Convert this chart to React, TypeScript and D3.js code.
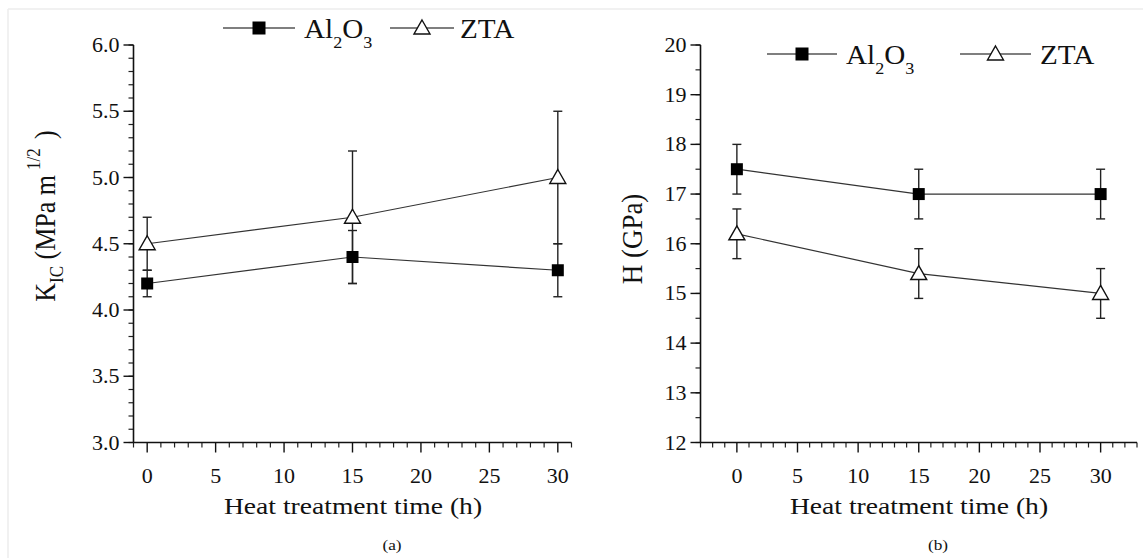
import React from "react";
import * as d3 from "d3";

// ---- data ----
const times = [0, 15, 30];
const kicAl2O3 = [4.2, 4.4, 4.3];
const kicAl2O3Err = [0.1, 0.2, 0.2];
const kicZTA = [4.5, 4.7, 5.0];
const kicZTAErr = [0.2, 0.5, 0.5];
const hAl2O3 = [17.5, 17.0, 17.0];
const hAl2O3Err = [0.5, 0.5, 0.5];
const hZTA = [16.2, 15.4, 15.0];
const hZTAErr = [0.5, 0.5, 0.5];
const xTicks = [0, 5, 10, 15, 20, 25, 30];
const kicTicks = [3.0, 3.5, 4.0, 4.5, 5.0, 5.5, 6.0];
const hTicks = [12, 13, 14, 15, 16, 17, 18, 19, 20];
const xLabel = "Heat treatment time (h)";

const FONT = "Liberation Serif, Tinos, Times New Roman, Times, DejaVu Serif, serif";
const SX = 1.12;

function T({ x, y, size, anchor = "start", sx = SX, children, fill = "#111" }: any) {
  return (
    <text
      transform={`translate(${x},${y}) scale(${sx},1)`}
      style={{ fontFamily: FONT, fontSize: size }}
      textAnchor={anchor}
      fill={fill}
    >
      {children}
    </text>
  );
}

function Square({ x, y, s = 12 }: any) {
  return <rect x={x - s / 2} y={y - s / 2} width={s} height={s} fill="#000" />;
}
function Tri({ x, y, w = 16, h = 14 }: any) {
  const p = [
    [x, y - h / 2 - 1],
    [x + w / 2, y + h / 2 - 1],
    [x - w / 2, y + h / 2 - 1],
  ];
  return <polygon points={p.map((q) => q.join(",")).join(" ")} fill="#fff" stroke="#111" strokeWidth={1.4} strokeLinejoin="miter" />;
}

function AlLabel({ x, y, size }: any) {
  return (
    <text transform={`translate(${x},${y}) scale(1.08,1)`} style={{ fontFamily: FONT, fontSize: size }} fill="#111">
      Al
      <tspan style={{ fontSize: size * 0.62 }} dy={10}>2</tspan>
      <tspan dy={-10}>O</tspan>
      <tspan style={{ fontSize: size * 0.62 }} dy={10}>3</tspan>
    </text>
  );
}

function Legend({ y, alLine, alText, ztaLine, ztaText }: any) {
  return (
    <g>
      <line x1={alLine[0]} x2={alLine[1]} y1={y} y2={y} stroke="#555" strokeWidth={1.4} />
      <Square x={(alLine[0] + alLine[1]) / 2} y={y} s={13} />
      <AlLabel x={alText} y={y + 10} size={27} />
      <line x1={ztaLine[0]} x2={ztaLine[1]} y1={y} y2={y} stroke="#555" strokeWidth={1.4} />
      <Tri x={(ztaLine[0] + ztaLine[1]) / 2} y={y} />
      <text transform={`translate(${ztaText},${y + 10}) scale(1.08,1)`} style={{ fontFamily: FONT, fontSize: 27 }} fill="#111">
        ZTA
      </text>
    </g>
  );
}

function Panel({ xDomain, xRange, yDomain, yRange, yTicks, yMinorStep, fmt, al, alErr, zta, ztaErr }: any) {
  const x = d3.scaleLinear().domain(xDomain).range(xRange);
  const y = d3.scaleLinear().domain(yDomain).range(yRange);
  const x0 = xRange[0];
  const yb = yRange[0];
  const xMinor = d3.range(Math.ceil(xDomain[0]), Math.floor(xDomain[1]) + 1).filter((v) => v % 5 !== 0);
  const nMinor = Math.round((yDomain[1] - yDomain[0]) / yMinorStep);
  const yMinor = d3.range(0, nMinor + 1).map((i) => yDomain[0] + i * yMinorStep);
  const line = d3
    .line<number>()
    .x((_, i) => x(times[i]))
    .y((d) => y(d));
  const errBars = (vals: number[], errs: number[]) =>
    vals.map((v, i) => {
      const cx = x(times[i]);
      const top = y(v + errs[i]);
      const bot = y(v - errs[i]);
      return (
        <g key={i} stroke="#222" strokeWidth={1.4}>
          <line x1={cx} x2={cx} y1={top} y2={bot} />
          <line x1={cx - 4.5} x2={cx + 4.5} y1={top} y2={top} />
          <line x1={cx - 4.5} x2={cx + 4.5} y1={bot} y2={bot} />
        </g>
      );
    });
  return (
    <g>
      {xMinor.map((v) => (
        <line key={"xm" + v} x1={x(v)} x2={x(v)} y1={yb} y2={yb + 5} stroke="#222" strokeWidth={1.2} />
      ))}
      {yMinor.map((v, i) => (
        <line key={"ym" + i} x1={x0 - 5} x2={x0} y1={y(v)} y2={y(v)} stroke="#222" strokeWidth={1.2} />
      ))}
      {xTicks.map((v) => (
        <g key={"xt" + v}>
          <line x1={x(v)} x2={x(v)} y1={yb} y2={yb + 10} stroke="#111" strokeWidth={1.4} />
          <T x={x(v)} y={yb + 40} size={20} anchor="middle" sx={1.1}>
            {String(v)}
          </T>
        </g>
      ))}
      {yTicks.map((v: number) => (
        <g key={"yt" + v}>
          <line x1={x0 - 10} x2={x0} y1={y(v)} y2={y(v)} stroke="#111" strokeWidth={1.4} />
          <T x={x0 - 14} y={y(v) + 7} size={20} anchor="end" sx={1.1}>
            {fmt(v)}
          </T>
        </g>
      ))}
      <line x1={x0} x2={xRange[1]} y1={yb} y2={yb} stroke="#111" strokeWidth={1.6} />
      <line x1={x0} x2={x0} y1={yb} y2={yRange[1]} stroke="#111" strokeWidth={1.6} />
      <path d={line(al) || ""} fill="none" stroke="#333" strokeWidth={1.2} />
      <path d={line(zta) || ""} fill="none" stroke="#333" strokeWidth={1.2} />
      {errBars(al, alErr)}
      {errBars(zta, ztaErr)}
      {al.map((v: number, i: number) => (
        <Square key={"s" + i} x={x(times[i])} y={y(v)} />
      ))}
      {zta.map((v: number, i: number) => (
        <Tri key={"t" + i} x={x(times[i])} y={y(v)} />
      ))}
    </g>
  );
}

export default function App() {
  return (
    <svg width={1143} height={558} style={{ position: "absolute", left: 0, top: 0, background: "#fff" }}>
      <rect x={0} y={0} width={1143} height={558} fill="#fff" />
      <line x1={8} x2={8} y1={9} y2={558} stroke="#ececec" strokeWidth={1.5} />
      <line x1={8} x2={1143} y1={9} y2={9} stroke="#ececec" strokeWidth={1.5} />

      <Panel
        xDomain={[-1, 31]}
        xRange={[133.5, 571.5]}
        yDomain={[3, 6]}
        yRange={[442.5, 45]}
        yTicks={kicTicks}
        yMinorStep={0.1}
        fmt={d3.format(".1f")}
        al={kicAl2O3}
        alErr={kicAl2O3Err}
        zta={kicZTA}
        ztaErr={kicZTAErr}
      />
      <Panel
        xDomain={[-3, 33]}
        xRange={[700.5, 1137]}
        yDomain={[12, 20]}
        yRange={[442.5, 45]}
        yTicks={hTicks}
        yMinorStep={0.5}
        fmt={d3.format("d")}
        al={hAl2O3}
        alErr={hAl2O3Err}
        zta={hZTA}
        ztaErr={hZTAErr}
      />

      <Legend y={28} alLine={[223, 295]} alText={304} ztaLine={[390, 454]} ztaText={460} />
      <Legend y={54} alLine={[767, 837]} alText={846} ztaLine={[960, 1031]} ztaText={1040} />

      <text
        transform="translate(55,216) rotate(-90) scale(1,1.12)"
        style={{ fontFamily: FONT, fontSize: 26 }}
        textAnchor="middle"
        fill="#111"
      >
        K<tspan style={{ fontSize: 17 }} dy={7}>IC</tspan>
        <tspan dy={-7}> (MPa m</tspan>
        <tspan style={{ fontSize: 17 }} dy={-13} dx={5}>1/2</tspan>
        <tspan dy={13} dx={3}> )</tspan>
      </text>
      <text
        transform="translate(642,239) rotate(-90) scale(1,1.12)"
        style={{ fontFamily: FONT, fontSize: 27 }}
        textAnchor="middle"
        fill="#111"
      >
        H (GPa)
      </text>

      <T x={353} y={514} size={24} anchor="middle" sx={1.15}>{xLabel}</T>
      <T x={919} y={514} size={24} anchor="middle" sx={1.15}>{xLabel}</T>
      <T x={392} y={550} size={15} anchor="middle" sx={1.15}>(a)</T>
      <T x={938} y={550} size={15} anchor="middle" sx={1.15}>(b)</T>
    </svg>
  );
}
